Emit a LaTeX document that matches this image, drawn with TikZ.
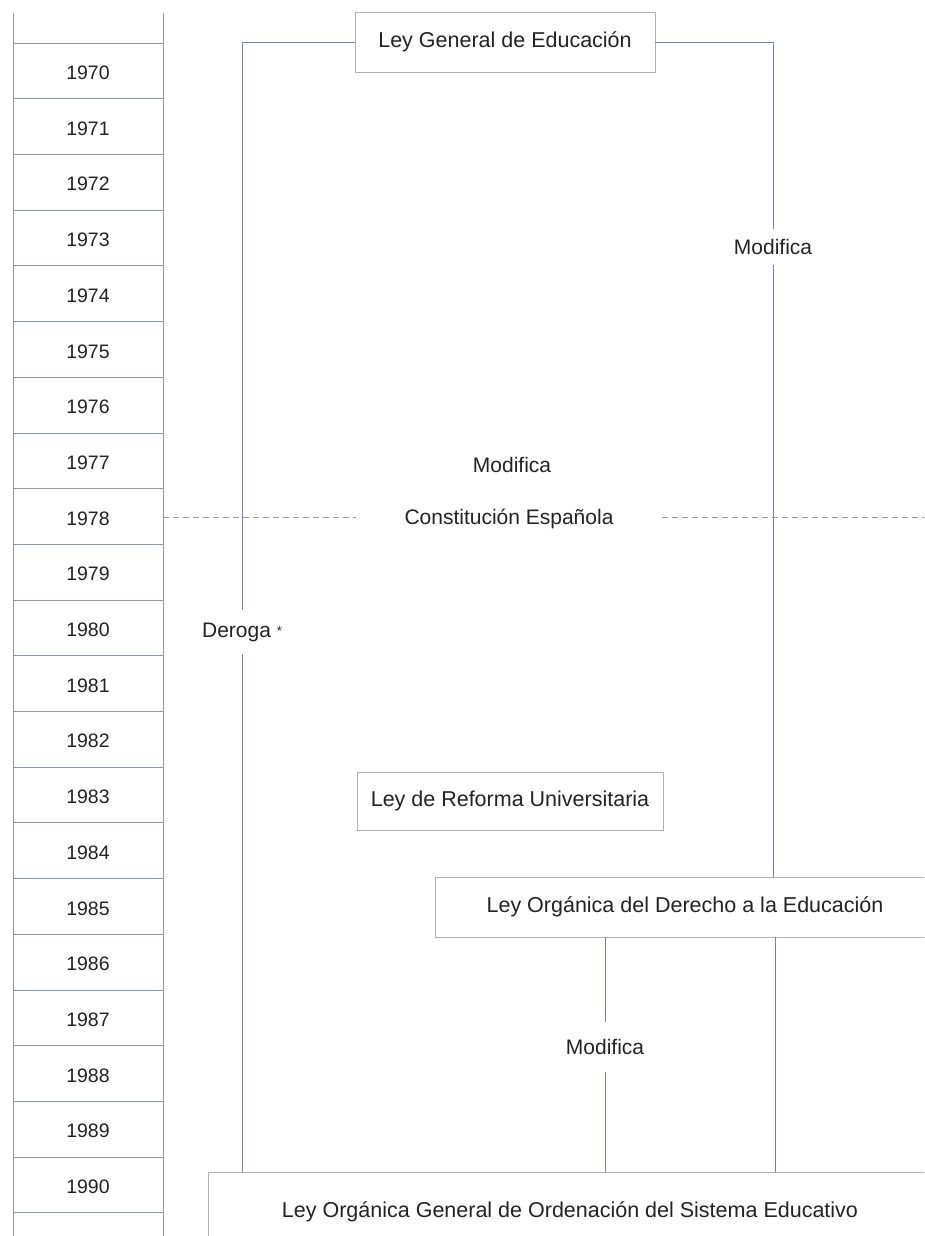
\documentclass[tikz,border=0pt]{standalone}
\usepackage{fontspec}
\setmainfont{Liberation Sans}
\begin{document}
\begin{tikzpicture}[x=1pt,y=-1pt,
  conn/.style={draw={rgb,255:red,118;green,128;blue,180},line width=0.8pt},
  grid/.style={draw={rgb,255:red,140;green,148;blue,185},line width=0.7pt},
  lawbox/.style={draw={rgb,255:red,175;green,175;blue,185},line width=0.8pt,fill=white,
    text={rgb,255:red,35;green,35;blue,35},font=\fontsize{21.5}{24}\selectfont,inner sep=0pt},
  lbl/.style={text={rgb,255:red,35;green,35;blue,35},font=\fontsize{21}{24}\selectfont,inner sep=2pt},
  yr/.style={text={rgb,255:red,35;green,35;blue,35},font=\fontsize{19.5}{22}\selectfont,inner sep=0pt},
  dashline/.style={draw={rgb,255:red,150;green,150;blue,160},line width=0.8pt,dash pattern=on 6pt off 4pt}
]
\clip (0,0) rectangle (924,1236);
\fill[white] (0,0) rectangle (924,1236);
% year column
\draw[grid] (13,13) -- (13,1236);
\draw[grid] (163,13) -- (163,1236);
\foreach \k in {0,...,21}{
  \draw[grid] (13,{43+55.7*\k}) -- (163,{43+55.7*\k});
}
\foreach \k in {0,...,20}{
  \pgfmathtruncatemacro{\yy}{1970+\k}
  \node[yr] (y\yy) at (88,{43+55.7*(\k+0.5)+2}) {\yy};
}
% laws
\node[lawbox,minimum width=300,minimum height=60] (lge) at (505,42) {Ley General de Educación};
\node[lawbox,minimum width=306,minimum height=58] (lru) at (510,801) {Ley de Reforma Universitaria};
\node[lawbox,minimum width=500,minimum height=60] (lode) at (685,907) {Ley Orgánica del Derecho a la Educación};
\node[lawbox,minimum width=724,minimum height=80] (logse) at (570,1212) {Ley Orgánica General de Ordenación del Sistema Educativo};
% labels
\node[lbl,minimum height=36] (mod1) at (773,247) {Modifica};
\node[lbl] (mod2) at (512,465) {Modifica};
\node[lbl,minimum width=305] (ce) at (509,519) {Constitución Española};
\node[lbl,minimum height=44] (der) at (242,632) {Deroga {\fontsize{13}{13}\selectfont\raisebox{2pt}{*}}};
\node[lbl,minimum height=50] (mod3) at (605,1047) {Modifica};
% connectors
\draw[conn] (lge.west) -| (der.north);
\draw[conn] (der.south) -- (der.south |- logse.north);
\draw[conn] (lge.east) -| (mod1.north);
\draw[conn] (mod1.south) -- (mod1.south |- lode.north);
\draw[conn] (mod3.north |- lode.south) -- (mod3.north);
\draw[conn] (mod3.south) -- (mod3.south |- logse.north);
\coordinate (r1) at (775,0);
\draw[conn] (r1 |- lode.south) -- (r1 |- logse.north);
\coordinate (ceL) at (163,517);
\coordinate (ceR) at (924,517);
\draw[dashline] (ceL) -- (ceL -| ce.west);
\draw[dashline] (ceR -| ce.east) -- (ceR);
\end{tikzpicture}
\end{document}
